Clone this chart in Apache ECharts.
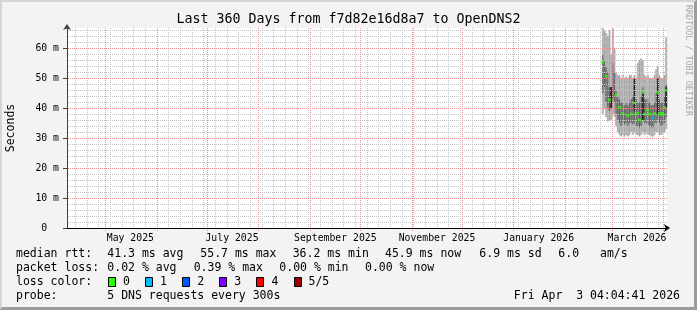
<!DOCTYPE html>
<html><head><meta charset="utf-8">
<script src="https://cdn.jsdelivr.net/npm/echarts@6/dist/echarts.min.js"></script>
<style>
html,body{margin:0;padding:0;background:#f3f3f3;}
#wrap{position:relative;width:697px;height:310px;}
#c{position:absolute;left:0;top:0;width:697px;height:310px;}
#frame{position:absolute;left:0;top:0;width:697px;height:310px;box-sizing:border-box;
 border-top:2px solid #d6d6d6;border-left:2px solid #d6d6d6;border-right:3px solid #9c9c9c;border-bottom:3px solid #9c9c9c;pointer-events:none;}
</style></head><body>
<div id="wrap"><div id="c"></div><div id="frame"></div></div>
<script>
// ---------------- data ----------------
const titleText = 'Last 360 Days from f7d82e16d8a7 to OpenDNS2';
const yAxisTitle = 'Seconds';
const watermark = 'RRDTOOL / TOBI OETIKER';
const windowStartUTC = [2025, 3, 8];   // Apr 8 2025
const windowDays = 360;
const monthNames = ['January','February','March','April','May','June','July','August','September','October','November','December'];
const yTickStep = 10;
const yMinorStep = 2;

const firstDataDay = '2026-02-23';
const rttMin    = [38,40,37,35.5,35.8,36,38,37,34,32,31,30.5,31,30.5,31,30.5,31,32,31,32,31,31,30.5,31,32,31,31.5,31,31,30.5,30.5,31,32,32,31,31,31.5,32,33];
const rttQ1     = [45,47,42,40,39,40,43,42,38,36,35,34,35,34.5,35,34,35,35,34.5,35,34,34,33.5,34,36,35,35,34.5,34,33.5,33.5,35,35,36,35,34,34.5,35,37];
const rttQ3     = [58,56,54,52,47,47,55,52,46,44,43,42,42,41,42,41,42,43,44,46,43,42,42,44,47,43,43,43,42,41,41,42,45,47,43,42,42,44,48];
const rttMax    = [66.7,66,65,64,66,58,66.5,60,52,51,51,50,51,50,50.5,50,51,51,50,51,50,55,56,56.5,56,51,50.5,51,50,50,50,51,53,54,51,50,50,51,63.5];
const rttMedian = [55.2,null,50.6,null,42.7,null,null,50.2,44.4,null,40.2,null,38.2,null,null,37.4,null,38,null,41.7,null,38.2,36,null,45.2,38,null,39.3,38,null,36.7,38.2,null,45.2,38,38.2,37.8,40.2,45.9];
const medianLoss= [0,0,0,0,0,0,0,1,0,0,0,0,0,0,0,0,0,0,0,0,0,0,0,0,0,0,0,0,0,0,1,0,0,0,0,0,0,0,0];
const coreLow   = [null,null,null,null,null,40,null,null,null,null,null,null,null,null,null,null,null,null,null,39,null,null,null,null,36,null,null,null,null,null,null,null,null,38,null,null,null,null,40];
const coreHigh  = [null,null,null,null,null,47,null,null,null,null,null,null,null,null,null,null,null,null,null,50,null,null,null,null,45,null,null,null,null,null,null,null,null,50,null,null,null,null,47];

const lossLabels = ['0','1','2','3','4','5/5'];
const lossColors = ['#26ff00','#00b8ff','#0059ff','#7e00ff','#ff0000','#a10000'];
const rttStats  = ['41.3 ms avg','55.7 ms max','36.2 ms min','45.9 ms now','6.9 ms sd','6.0','am/s'];
const lossStats = ['0.02 % avg','0.39 % max','0.00 % min','0.00 % now'];
const probeText = '5 DNS requests every 300s';
const stampText = 'Fri Apr  3 04:04:41 2026';

// ---------------- build ----------------
function dayDate(i){ return new Date(Date.UTC(windowStartUTC[0], windowStartUTC[1], windowStartUTC[2] + i)); }
const boundaryCats = Array.from({length: windowDays + 1}, (_, i) => dayDate(i).toISOString().slice(0, 10));
const barCats = boundaryCats.slice(0, windowDays);
const asDate = v => new Date(v + 'T00:00:00Z');
const off = barCats.indexOf(firstDataDay);
function place(arr){ const out = new Array(windowDays).fill(null); arr.forEach((v, i) => { out[off + i] = v; }); return out; }
const pMin = place(rttMin), pQ1 = place(rttQ1), pQ3 = place(rttQ3), pMax = place(rttMax);
const pMed = place(rttMedian), pLoss = place(medianLoss), pCL = place(coreLow), pCH = place(coreHigh);
const diff = (a, b) => a.map((v, i) => (v == null || b[i] == null) ? null : +(v - b[i]).toFixed(4));

const FONT = '"DejaVu Sans Mono", monospace';
const LIGHT = '#a6a6a6', DARK = '#626262', CORE = '#1c1c1c';
const MINOR = '#c4c4c4', MAJOR = '#f08c8c';
const yMax = 200 / 3;

function dots(color, horizontal){
  const c = document.createElement('canvas');
  c.width = horizontal ? 2 : 1; c.height = horizontal ? 1 : 2;
  const g = c.getContext('2d'); g.fillStyle = color; g.fillRect(0, 0, 1, 1);
  return {image: c, repeat: 'repeat'};
}

function bar(stack, data, color){
  return {type: 'bar', stack, data, xAxisIndex: 1, yAxisIndex: 0, barCategoryGap: '0%', barGap: '-100%',
    silent: true, z: 2,
    itemStyle: color ? {color, borderColor: color, borderWidth: 0.6} : {color: 'transparent'}};
}

// grid line positions derived from the calendar and the axis steps
const sundayIdx = boundaryCats.map((v, i) => asDate(v).getUTCDay() === 0 ? i : -1).filter(i => i > 0 && i < windowDays);
const monthIdx = boundaryCats.map((v, i) => asDate(v).getUTCDate() === 1 ? i : -1).filter(i => i > 0 && i < windowDays);
const minorY = []; for (let v = yMinorStep; v < yMax; v += yMinorStep) minorY.push(v);
const majorY = []; for (let v = yTickStep; v < yMax; v += yTickStep) majorY.push(v);

function vGrid(indices, color, ext, z){
  const pat = dots(color, false);
  return {type: 'custom', xAxisIndex: 0, yAxisIndex: 0, silent: true, z, data: indices.map(i => [i, 0]),
    renderItem: (params, api) => {
      const cs = params.coordSys;
      const x = Math.floor(api.coord([api.value(0), 0])[0]);
      return {type: 'rect', shape: {x, y: cs.y, width: 1, height: cs.height + ext}, style: {fill: pat}};
    }};
}
function hGrid(values, color, z){
  const pat = dots(color, true);
  return {type: 'custom', xAxisIndex: 0, yAxisIndex: 0, silent: true, z, data: values.map(v => [0, v]),
    renderItem: (params, api) => {
      const cs = params.coordSys;
      const y = Math.floor(api.coord([0, api.value(1)])[1]);
      return {type: 'rect', shape: {x: cs.x, y, width: cs.width, height: 1}, style: {fill: pat}};
    }};
}

const series = [
  bar('smoke', pMin, null), bar('smoke', diff(pQ1, pMin), LIGHT), bar('smoke', diff(pQ3, pQ1), DARK), bar('smoke', diff(pMax, pQ3), LIGHT),
  bar('core', pCL, null), bar('core', diff(pCH, pCL), CORE),
  hGrid(minorY.filter(v => v % yTickStep !== 0), MINOR, 3),
  vGrid(sundayIdx, MINOR, 2, 3),
  hGrid(majorY, MAJOR, 4),
  vGrid(monthIdx, MAJOR, 3, 4),
  {type: 'scatter', xAxisIndex: 1, yAxisIndex: 0, symbol: 'rect', symbolSize: [3, 2.6], silent: true, z: 6,
   data: pMed.map((v, i) => v == null ? null : {value: v, itemStyle: {color: lossColors[pLoss[i]]}})}
];

const gridLeft = 67, gridTop = 28, plotW = 600, plotH = 200;
const W = 697;

function txt(x, y, text, size, o){
  o = o || {};
  return {type: 'text', x, y, rotation: o.rot || 0, silent: true, z: 10,
    style: {text, font: size + 'px ' + FONT, fill: o.fill || '#000', align: o.align || 'left', verticalAlign: o.va || 'middle'}};
}
const graphic = [];
graphic.push(txt(W / 2, 19.5, titleText, 13.3, {align: 'center'}));
graphic.push(txt(11, 128, yAxisTitle, 11.5, {align: 'center', rot: Math.PI / 2}));
graphic.push(txt(688, 5, watermark, 8.4, {align: 'left', rot: -Math.PI / 2, fill: '#a8a8a8'}));
const colX = [107.3, 200.3, 292.7, 385, 479.3, 558.3, 600];
const lossX = [107.3, 193.7, 279.3, 365];
const rowY = [254, 268.3, 282.3, 296];
graphic.push(txt(16, rowY[0], 'median rtt:', 11.5));
rttStats.forEach((s, i) => graphic.push(txt(colX[i], rowY[0], s, 11.5)));
graphic.push(txt(16, rowY[1], 'packet loss:', 11.5));
lossStats.forEach((s, i) => graphic.push(txt(lossX[i], rowY[1], s, 11.5)));
graphic.push(txt(16, rowY[2], 'loss color:', 11.5));
lossLabels.forEach((s, i) => {
  const bx = 108 + i * 37.1;
  graphic.push({type: 'rect', silent: true, z: 10, shape: {x: Math.round(bx) + 0.5, y: Math.round(rowY[2] - 5) + 0.5, width: 7, height: 9},
    style: {fill: lossColors[i], stroke: '#000', lineWidth: 1}});
  graphic.push(txt(bx + 15, rowY[2], s, 11.5));
});
graphic.push(txt(16, rowY[3], 'probe:', 11.5));
graphic.push(txt(107.3, rowY[3], probeText, 11.5));
graphic.push(txt(680, rowY[3], stampText, 11.5, {align: 'right'}));

const isLabelDay = (idx, v) => { const d = asDate(v); return d.getUTCDate() === 16 && d.getUTCMonth() % 2 === 0; };

const option = {
  animation: false,
  backgroundColor: '#f3f3f3',
  grid: {left: gridLeft, top: gridTop, width: plotW, height: plotH, show: true, backgroundColor: '#ffffff', borderWidth: 0,
         containLabel: false, outerBoundsMode: 'none'},
  xAxis: [
    {type: 'category', data: boundaryCats, boundaryGap: false, position: 'bottom', z: 8,
     axisLine: {show: true, symbol: ['none', 'arrow'], symbolSize: [6, 6], symbolOffset: [0, 3], lineStyle: {color: '#000', width: 1}},
     axisTick: {show: false}, splitLine: {show: false},
     axisLabel: {show: true, interval: isLabelDay, margin: 5, color: '#000', fontFamily: FONT, fontSize: 9.8,
       formatter: v => { const d = asDate(v); return monthNames[d.getUTCMonth()] + ' ' + d.getUTCFullYear(); }}},
    {type: 'category', data: barCats, boundaryGap: true, position: 'bottom', show: false}
  ],
  yAxis: [
    {type: 'value', min: 0, max: yMax, interval: yTickStep, position: 'left', z: 8,
     axisLine: {show: true, symbol: ['none', 'arrow'], symbolSize: [6, 6], symbolOffset: [0, 4], lineStyle: {color: '#404040', width: 1}},
     axisTick: {show: true, length: 4, lineStyle: {color: '#404040'}},
     axisLabel: {show: true, showMaxLabel: false, margin: 8, color: '#000', fontFamily: FONT, fontSize: 9.8,
       formatter: v => v === 0 ? '0  ' : v + ' m'},
     splitLine: {show: false}}
  ],
  series,
  graphic
};
const chart = echarts.init(document.getElementById('c'));
chart.setOption(option);
</script>
</body></html>
